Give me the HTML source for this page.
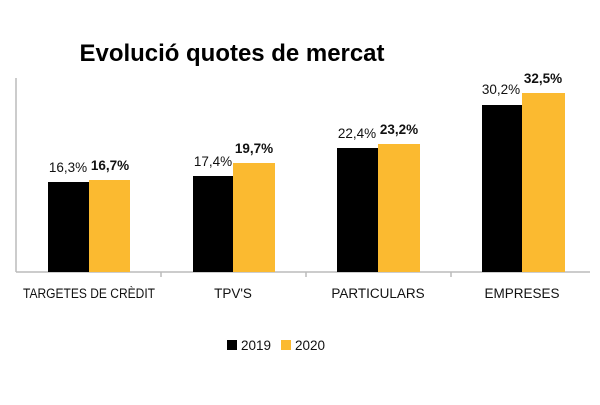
<!DOCTYPE html><html><head><style>body{margin:0;background:#fff}</style></head><body>
<svg width="600" height="400" xmlns="http://www.w3.org/2000/svg" font-family="Liberation Sans, sans-serif">
<rect width="600" height="400" fill="#fff"/>
<text x="232" y="61" font-size="24" font-weight="bold" text-anchor="middle" fill="#000" textLength="305" lengthAdjust="spacingAndGlyphs">Evolució quotes de mercat</text>
<line x1="16" y1="78" x2="16" y2="272" stroke="#bbb" stroke-width="1.5"/>
<line x1="16" y1="272" x2="590" y2="272" stroke="#bbb" stroke-width="1.5"/>
<g stroke="#bbb" stroke-width="1.5"><line x1="161" y1="272" x2="161" y2="277"/><line x1="306" y1="272" x2="306" y2="277"/><line x1="451" y1="272" x2="451" y2="277"/></g>
<g fill="#000"><rect x="48" y="182" width="41" height="90"/><rect x="193" y="176" width="40" height="96"/><rect x="337" y="148" width="41" height="124"/><rect x="482" y="105" width="40" height="167"/></g>
<g fill="#FBBA30"><rect x="89" y="180" width="41" height="92"/><rect x="233" y="163" width="42" height="109"/><rect x="378" y="144" width="42" height="128"/><rect x="522" y="93" width="43" height="179"/></g>
<g font-size="13.5" text-anchor="middle" fill="#111">
<text x="68" y="172">16,3%</text><text x="213" y="166">17,4%</text><text x="357" y="138">22,4%</text><text x="501" y="94">30,2%</text>
<g font-weight="bold"><text x="110" y="170">16,7%</text><text x="254" y="153">19,7%</text><text x="399" y="134">23,2%</text><text x="543" y="83">32,5%</text></g>
<text x="89" y="298" textLength="132" lengthAdjust="spacingAndGlyphs">TARGETES DE CRÈDIT</text><text x="233" y="298">TPV'S</text><text x="378" y="298">PARTICULARS</text><text x="522" y="298">EMPRESES</text>
</g>
<rect x="227" y="340" width="10" height="10" fill="#000"/><text x="241" y="350" font-size="13.5" fill="#111">2019</text>
<rect x="281" y="340" width="10" height="10" fill="#FBBA30"/><text x="295" y="350" font-size="13.5" fill="#111">2020</text>
</svg></body></html>
